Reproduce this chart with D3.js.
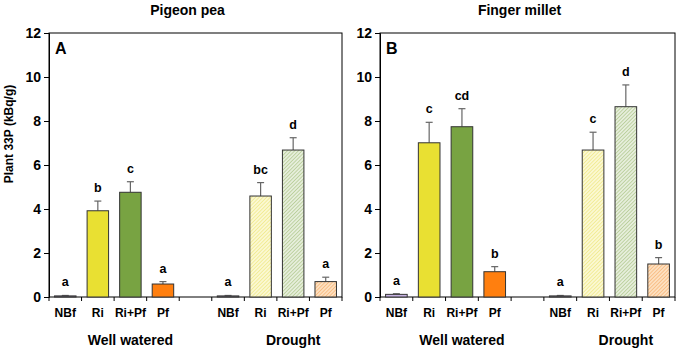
<!DOCTYPE html>
<html>
<head>
<meta charset="utf-8">
<script src="https://cdn.jsdelivr.net/npm/d3@7"></script>
<style>
  body { margin: 0; background: #fff; }
  text { font-family: "Liberation Sans", Arial, sans-serif; font-weight: bold; fill: #000; }
</style>
</head>
<body>
<div id="chart"></div>
<script>
// categories and groups
var categories = ["NBf", "Ri", "Ri+Pf", "Pf"];
var groups = ["Well watered", "Drought"];
var yTicks = [0, 2, 4, 6, 8, 10, 12];

// Pigeon pea (panel A)
var pigeonWell = [0.05, 3.92, 4.76, 0.59];
var pigeonWellErr = [0.02, 0.44, 0.48, 0.11];
var pigeonWellLetters = ["a", "b", "c", "a"];
var pigeonDrought = [0.05, 4.59, 6.68, 0.70];
var pigeonDroughtErr = [0.02, 0.61, 0.56, 0.20];
var pigeonDroughtLetters = ["a", "bc", "d", "a"];

// Finger millet (panel B)
var milletWell = [0.12, 7.01, 7.74, 1.15];
var milletWellErr = [0.03, 0.93, 0.82, 0.23];
var milletWellLetters = ["a", "c", "cd", "b"];
var milletDrought = [0.05, 6.68, 8.65, 1.50];
var milletDroughtErr = [0.02, 0.81, 0.99, 0.29];
var milletDroughtLetters = ["a", "c", "d", "b"];

var fills = ["#c7b3e3", "#e9e032", "#78a342", "#ff7f0f"];
var hatchBg = ["#ddd2ee", "#fbf8d2", "#e6eedb", "#fde0c0"];
var hatchLine = ["#b09bd2", "#ece46e", "#a1bd78", "#f6a860"];

var W = 680, H = 350;
var svg = d3.select("#chart").append("svg")
  .attr("width", W).attr("height", H);

// hatch patterns for drought bars
var defs = svg.append("defs");
categories.forEach(function (c, i) {
  var p = defs.append("pattern")
    .attr("id", "hatch" + i)
    .attr("patternUnits", "userSpaceOnUse")
    .attr("width", 2.6).attr("height", 2.6)
    .attr("patternTransform", "rotate(45)");
  p.append("rect").attr("width", 2.6).attr("height", 2.6).attr("fill", hatchBg[i]);
  p.append("line").attr("x1", 0).attr("y1", 0).attr("x2", 0).attr("y2", 2.6)
    .attr("stroke", hatchLine[i]).attr("stroke-width", 1.1);
});

var slots = [];
categories.forEach(function (c) { slots.push("w|" + c); });
slots.push("gap");
categories.forEach(function (c) { slots.push("d|" + c); });

var plotTop = 33, plotBottom = 297;
var y = d3.scaleLinear().domain([0, 12]).range([plotBottom, plotTop]);

function drawPanel(left, right, title, letter, well, wellErr, wellL, dro, droErr, droL) {
  var x = d3.scaleBand().domain(slots).range([left, right])
    .paddingInner(0.34).paddingOuter(0.17);
  var step = x.step();
  var g = svg.append("g");

  // frame
  g.append("rect")
    .attr("x", left).attr("y", plotTop)
    .attr("width", right - left).attr("height", plotBottom - plotTop)
    .attr("fill", "none").attr("stroke", "#000").attr("stroke-width", 1);

  // y axis
  var yAxis = g.append("g")
    .attr("transform", "translate(" + left + ",0)")
    .call(d3.axisLeft(y).tickValues(yTicks).tickSize(5).tickPadding(3));
  yAxis.select(".domain").attr("stroke", "#000");
  yAxis.selectAll("text").style("font-size", "14px").style("font-family", "Liberation Sans, Arial, sans-serif").style("font-weight", "bold");

  // x axis ticks at slot boundaries
  var bounds = d3.range(slots.length + 1).map(function (k) { return left + k * step; });
  g.selectAll(".xt").data(bounds).enter().append("line")
    .attr("x1", function (d) { return d; }).attr("x2", function (d) { return d; })
    .attr("y1", plotBottom).attr("y2", plotBottom + 4)
    .attr("stroke", "#000");

  var rows = [];
  categories.forEach(function (c, i) {
    rows.push({ key: "w|" + c, i: i, v: well[i], e: wellErr[i], l: wellL[i], hatch: false });
  });
  categories.forEach(function (c, i) {
    rows.push({ key: "d|" + c, i: i, v: dro[i], e: droErr[i], l: droL[i], hatch: true });
  });

  // error bars (upward only)
  var eb = g.selectAll(".eb").data(rows).enter().append("g");
  eb.append("line")
    .attr("x1", function (d) { return x(d.key) + x.bandwidth() / 2; })
    .attr("x2", function (d) { return x(d.key) + x.bandwidth() / 2; })
    .attr("y1", function (d) { return y(d.v); })
    .attr("y2", function (d) { return y(d.v + d.e); })
    .attr("stroke", "#666").attr("stroke-width", 1.2);
  eb.append("line")
    .attr("x1", function (d) { return x(d.key) + x.bandwidth() / 2 - 3.5; })
    .attr("x2", function (d) { return x(d.key) + x.bandwidth() / 2 + 3.5; })
    .attr("y1", function (d) { return y(d.v + d.e); })
    .attr("y2", function (d) { return y(d.v + d.e); })
    .attr("stroke", "#666").attr("stroke-width", 1.2);

  // bars
  g.selectAll(".bar").data(rows).enter().append("rect")
    .attr("x", function (d) { return x(d.key); })
    .attr("y", function (d) { return y(d.v); })
    .attr("width", x.bandwidth())
    .attr("height", function (d) { return y(0) - y(d.v); })
    .attr("fill", function (d) { return d.hatch ? "url(#hatch" + d.i + ")" : fills[d.i]; })
    .attr("stroke", "#333").attr("stroke-width", 1);

  // significance letters
  g.selectAll(".sig").data(rows).enter().append("text")
    .attr("x", function (d) { return x(d.key) + x.bandwidth() / 2; })
    .attr("y", function (d) { return y(d.v + d.e) - 9; })
    .attr("text-anchor", "middle")
    .style("font-size", "12.5px")
    .text(function (d) { return d.l; });

  // category labels
  g.selectAll(".cat").data(rows).enter().append("text")
    .attr("x", function (d) { return x(d.key) + x.bandwidth() / 2; })
    .attr("y", 317)
    .attr("text-anchor", "middle")
    .style("font-size", "12px")
    .text(function (d) { return categories[d.i]; });

  // group labels, centred on the Ri+Pf slot
  g.append("text")
    .attr("x", x("w|Ri+Pf") + x.bandwidth() / 2)
    .attr("y", 345).attr("text-anchor", "middle")
    .style("font-size", "14px").text(groups[0]);
  g.append("text")
    .attr("x", x("d|Ri+Pf") + x.bandwidth() / 2)
    .attr("y", 345).attr("text-anchor", "middle")
    .style("font-size", "14px").text(groups[1]);

  // title and panel letter
  g.append("text")
    .attr("x", (left + right) / 2 - 8).attr("y", 15)
    .attr("text-anchor", "middle")
    .style("font-size", "14px").text(title);
  g.append("text")
    .attr("x", left + 6).attr("y", 54)
    .style("font-size", "16px").text(letter);
}

drawPanel(49, 342, "Pigeon pea", "A",
  pigeonWell, pigeonWellErr, pigeonWellLetters,
  pigeonDrought, pigeonDroughtErr, pigeonDroughtLetters);
drawPanel(380, 675, "Finger millet", "B",
  milletWell, milletWellErr, milletWellLetters,
  milletDrought, milletDroughtErr, milletDroughtLetters);

// y axis label
svg.append("text")
  .attr("transform", "translate(13,134) rotate(-90)")
  .attr("text-anchor", "middle")
  .style("font-size", "12px")
  .text("Plant 33P (kBq/g)");
</script>
</body>
</html>
